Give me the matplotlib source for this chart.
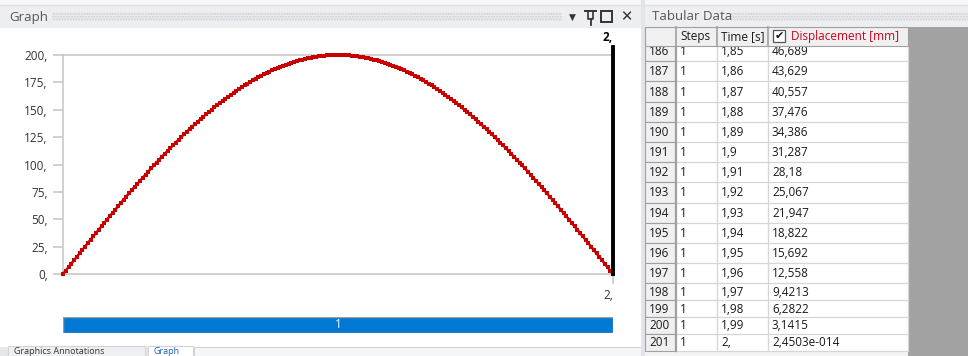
import numpy as np
import matplotlib
matplotlib.use("Agg")
import matplotlib.pyplot as plt
from matplotlib.patches import Rectangle

plt.rcParams['font.family'] = ['Open Sans', 'DejaVu Sans']

# displacement [mm] for every substep, 0.01 s apart
time_s = np.linspace(0, 2, 201)
displacement = [
    0.0, 3.14, 6.28, 9.42, 12.56, 15.69, 18.82, 21.95, 25.07, 28.18,
    31.29, 34.39, 37.48, 40.56, 43.63, 46.69, 49.74, 52.77, 55.80, 58.81,
    61.80, 64.78, 67.75, 70.70, 73.62, 76.54, 79.43, 82.30, 85.16, 87.99,
    90.80, 93.59, 96.35, 99.09, 101.81, 104.50, 107.17, 109.80, 112.42, 115.00,
    117.56, 120.08, 122.58, 125.05, 127.48, 129.89, 132.26, 134.60, 136.91, 139.18,
    141.42, 143.63, 145.79, 147.93, 150.02, 152.08, 154.10, 156.09, 158.03, 159.94,
    161.80, 163.63, 165.42, 167.16, 168.87, 170.53, 172.15, 173.73, 175.26, 176.75,
    178.20, 179.61, 180.97, 182.28, 183.55, 184.78, 185.96, 187.09, 188.18, 189.22,
    190.21, 191.16, 192.06, 192.91, 193.72, 194.47, 195.18, 195.84, 196.46, 197.02,
    197.54, 198.00, 198.42, 198.79, 199.11, 199.38, 199.61, 199.78, 199.90, 199.98,
    200.00,
    199.98, 199.90, 199.78, 199.61, 199.38, 199.11, 198.79, 198.42, 198.00, 197.54,
    197.02, 196.46, 195.84, 195.18, 194.47, 193.72, 192.91, 192.06, 191.16, 190.21,
    189.22, 188.18, 187.09, 185.96, 184.78, 183.55, 182.28, 180.97, 179.61, 178.20,
    176.75, 175.26, 173.73, 172.15, 170.53, 168.87, 167.16, 165.42, 163.63, 161.80,
    159.94, 158.03, 156.09, 154.10, 152.08, 150.02, 147.93, 145.79, 143.63, 141.42,
    139.18, 136.91, 134.60, 132.26, 129.89, 127.48, 125.05, 122.58, 120.08, 117.56,
    115.00, 112.42, 109.80, 107.17, 104.50, 101.81, 99.09, 96.35, 93.59, 90.80,
    87.99, 85.16, 82.30, 79.43, 76.54, 73.62, 70.70, 67.75, 64.78, 61.80,
    58.81, 55.80, 52.77, 49.74, 46.689, 43.629, 40.557, 37.476, 34.386, 31.287,
    28.18, 25.067, 21.947, 18.822, 15.692, 12.558, 9.4213, 6.2822, 3.1415, 2.4503e-14,
]

y_ticks = [0, 25, 50, 75, 100, 125, 150, 175, 200]
y_tick_labels = ["0,", "25,", "50,", "75,", "100,", "125,", "150,", "175,", "200,"]
x_ticks = [2]
x_tick_labels = ["2,"]
current_time = 2
current_label = "2,"
step_ids = ["1"]
step_start = [0.0]
step_end = [2.0]

# tabular data rows shown
row_ids = [186, 187, 188, 189, 190, 191, 192, 193, 194, 195, 196, 197, 198, 199, 200, 201]
row_steps = ["1"] * 16
row_times = ["1,85", "1,86", "1,87", "1,88", "1,89", "1,9", "1,91", "1,92",
             "1,93", "1,94", "1,95", "1,96", "1,97", "1,98", "1,99", "2,"]
row_disp = ["46,689", "43,629", "40,557", "37,476", "34,386", "31,287", "28,18", "25,067",
            "21,947", "18,822", "15,692", "12,558", "9,4213", "6,2822", "3,1415", "2,4503e-014"]
headers = ["Steps", "Time [s]", "Displacement [mm]"]

W, H = 968, 356
fig = plt.figure(figsize=(W / 100, H / 100), dpi=100)
fig.patch.set_facecolor("#f3f4f6")

# window chrome, in pixel units
ui = fig.add_axes([0, 0, 1, 1], zorder=0)
ui.set_xlim(0, W)
ui.set_ylim(H, 0)
ui.axis("off")

def box(x, y, w, h, fc, ec="none", lw=0, **kw):
    ui.add_patch(Rectangle((x, y), w, h, facecolor=fc, edgecolor=ec, linewidth=lw, **kw))

# graph panel
box(0, 5, 641, 23, "#eceef2")
box(0, 28, 641, 319, "white")
ui.text(9, 17, "Graph", fontsize=9.5, color="#555555", va="center")
box(52, 12, 510, 9, "none", ec="#c9ccd2", lw=0, hatch="......")
ui.text(572, 17, "▼", fontsize=6.5, color="#333333", va="center", ha="center")
ui.plot([585, 596], [10.5, 10.5], color="#333333", lw=1.4)
ui.plot([588, 588, 593, 593], [10.5, 19, 19, 10.5], color="#333333", lw=1.2)
ui.plot([590.5, 590.5], [19, 25], color="#333333", lw=1.3)
box(601, 11, 11, 11, "none", ec="#333333", lw=1.4)
ui.text(626, 17, "✕", fontsize=10.5, fontweight="bold", color="#333333",
        va="center", ha="center")
box(0, 0, W, 5, "#f7f7f9")
ui.plot([0, W], [5, 5], color="#dfe1e5", lw=1)

# bottom tabs
box(0, 347, 641, 9, "#e6e7eb")
box(8, 346, 137, 12, "#eef0f3", ec="#d2d4d8", lw=0.8)
ui.text(14, 355.5, "Graphics Annotations", fontsize=6.5, color="#333333", va="bottom")
box(148, 346, 45, 12, "white", ec="#d2d4d8", lw=0.8)
ui.text(153, 355.5, "Graph", fontsize=6.5, color="#1a5fb4", va="bottom")
box(194, 347, 447, 12, "#f5f6f8", ec="#d2d4d8", lw=0.8)

# tabular data panel
box(641, 0, 4, H, "#e4e5e8")
box(645, 5, W - 645, 22, "#eceef2")
ui.text(652, 17, "Tabular Data", fontsize=9.5, color="#555555", va="center")
box(730, 12, 238, 9, "none", ec="#c9ccd2", lw=0, hatch="......")
box(645, 27, W - 645, H - 27, "#f3f3f3")
box(908, 27, W - 908, H - 27, "#a2a2a2")

col_x = [645, 676, 717, 768, 908]
row_top = 41
row_h = [20.2] * 12 + [16.8] * 4
y0 = row_top
for i, rid in enumerate(row_ids):
    h = row_h[i]
    box(col_x[0], y0, col_x[1] - col_x[0], h, "#f0f0f0", ec="#a0a0a0", lw=0.8)
    box(col_x[1], y0, col_x[4] - col_x[1], h, "white")
    for cx in col_x[2:]:
        ui.plot([cx, cx], [y0, y0 + h], color="#d6d6d6", lw=0.9)
    ui.plot([col_x[1], col_x[4]], [y0 + h, y0 + h], color="#d6d6d6", lw=0.9)
    ui.plot([col_x[1], col_x[1]], [y0, y0 + h], color="#a0a0a0", lw=1.6)
    yc = y0 + h / 2 + 0.5
    ui.text(col_x[0] + 4, yc, str(rid), fontsize=8.5, color="#1a1a1a", va="center")
    ui.text(col_x[1] + 4, yc, row_steps[i], fontsize=8.5, color="#1a1a1a", va="center")
    ui.text(col_x[2] + 4, yc, row_times[i], fontsize=8.5, color="#1a1a1a", va="center")
    ui.text(col_x[3] + 4, yc, row_disp[i], fontsize=8.5, color="#1a1a1a", va="center")
    y0 += h

# header row drawn last so it covers the partly scrolled first row
box(col_x[0], 27, col_x[4] - col_x[0], 18.5, "#f0f0f0", ec="#a0a0a0", lw=0.8, zorder=5)
for cx in col_x[1:4]:
    ui.plot([cx, cx], [27, 45.5], color="#a0a0a0", lw=1.2, zorder=6)
ui.text(col_x[1] + 4, 36.5, headers[0], fontsize=8.5, color="#1a1a1a", va="center", zorder=6)
ui.text(col_x[2] + 4, 36.5, headers[1], fontsize=8.5, color="#1a1a1a", va="center", zorder=6)
box(773, 30, 12, 12, "white", ec="#555555", lw=0.9, zorder=6)
ui.text(779, 36.5, "✔", fontsize=8, color="#111111", va="center", ha="center", zorder=7)
ui.text(791, 36.5, headers[2], fontsize=8.5, color="#d0021b", va="center", zorder=6)

# displacement graph
ax = fig.add_axes([63 / W, (H - 274) / H, 550 / W, 219 / H], zorder=2)
ax.patch.set_alpha(0)
ax.plot(time_s, displacement, color="#c80000", lw=1.8, marker="s", ms=2.2,
        mew=0, clip_on=False, zorder=3)
ax.axvline(current_time, ymin=0, ymax=1.037, color="black", lw=2.8, clip_on=False, zorder=4)
ax.text(current_time, 1.048, current_label, transform=ax.get_xaxis_transform(),
        ha="right", va="bottom", fontsize=8.5, fontweight="bold", color="black")
ax.set_xlim(0, 2)
ax.set_ylim(0, 200)
ax.set_yticks(y_ticks)
ax.set_yticklabels(y_tick_labels)
ax.set_xticks(x_ticks)
ax.set_xticklabels(x_tick_labels, ha="right")
for side in ["left", "bottom", "top"]:
    ax.spines[side].set_color("#c8c8c8")
    ax.spines[side].set_linewidth(1.2)
ax.spines["right"].set_visible(False)
ax.tick_params(axis="both", direction="out", length=7, width=1.2, color="#c8c8c8",
               labelsize=8.5, labelcolor="#333333", pad=4)

# load step bar
sx = fig.add_axes([63 / W, (H - 333) / H, 550 / W, 16 / H], zorder=2)
sx.barh([0] * len(step_ids), np.array(step_end) - np.array(step_start), left=step_start,
        height=1, color="#0078d4", edgecolor="#9a9a9a", lw=1)
for sid, a, b in zip(step_ids, step_start, step_end):
    sx.text((a + b) / 2, 0, sid, color="white", fontsize=8.5, ha="center", va="center")
sx.set_xlim(0, 2)
sx.set_ylim(-0.5, 0.5)
sx.axis("off")

fig.savefig("out.png", dpi=100)
